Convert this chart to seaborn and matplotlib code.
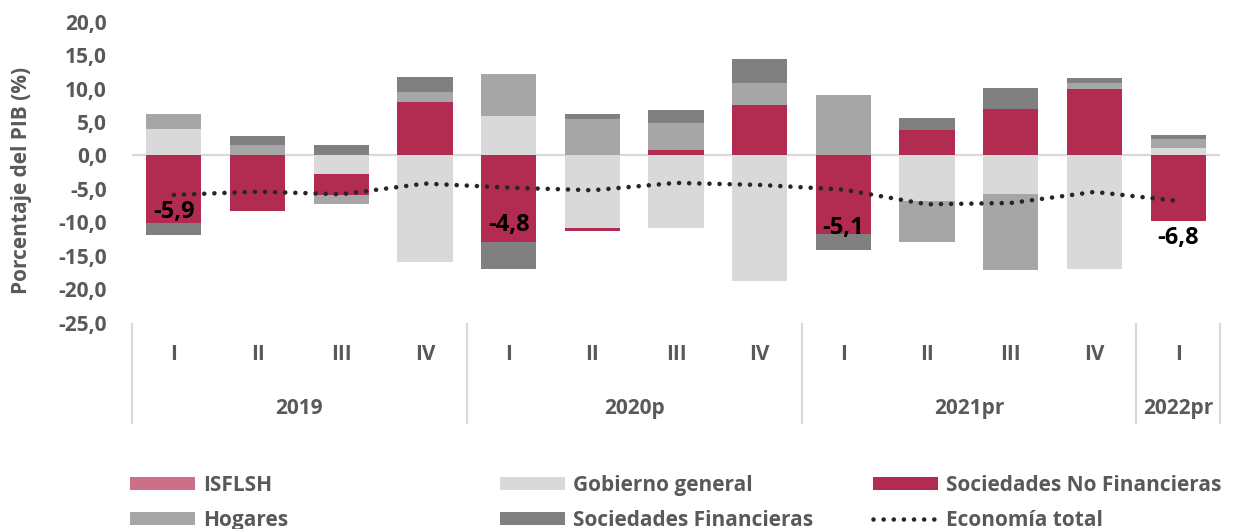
import numpy as np
import pandas as pd
import matplotlib
matplotlib.use("Agg")
import matplotlib.pyplot as plt
import seaborn as sns
from matplotlib.patches import Patch
from matplotlib.lines import Line2D

# ---------------- data ----------------
quarters = ["I", "II", "III", "IV", "I", "II", "III", "IV", "I", "II", "III", "IV", "I"]
years = ["2019"] * 4 + ["2020p"] * 4 + ["2021pr"] * 4 + ["2022pr"]

isflsh = [0, 0, 0, 0, 0, 0, 0, 0, 0, 0, 0, 0, 0]
gobierno = [3.9, 0.0, -2.8, -15.9, 5.85, -10.9, -10.85, -18.8, 0.0, -6.85, -5.75, -17.0, 1.05]
snf = [-10.1, -8.3, -3.1, 8.0, -13.0, -0.45, 0.8, 7.6, -11.7, 3.8, 7.0, 9.95, -9.8]
hogares = [2.35, 1.5, -1.4, 1.5, 6.3, 5.45, 4.05, 3.2, 9.0, -6.05, -11.4, 0.85, 1.45]
sf = [-1.85, 1.4, 1.5, 2.2, -3.9, 0.7, 1.9, 3.6, -2.4, 1.8, 3.05, 0.75, 0.6]
total = [-5.9, -5.4, -5.8, -4.2, -4.8, -5.2, -4.1, -4.4, -5.1, -7.3, -7.1, -5.45, -6.8]

y_ticks = [-25, -20, -15, -10, -5, 0, 5, 10, 15, 20]

# label offsets (pixels) for the data labels of each first quarter
label_offsets = [-17, -37, -38, -37]

# ---------------- style ----------------
sns.set_theme(style="white")
plt.rcParams["font.family"] = ["Open Sans", "DejaVu Sans"]
plt.rcParams["font.weight"] = "bold"
TXT = "#595959"
FS = 15

fig = plt.figure(figsize=(12.36, 5.29), dpi=100)
ax = fig.add_axes([132 / 1236, 1 - 322.7 / 529, 1088 / 1236, 301 / 529])

n = len(quarters)
periods = [f"{y}-{q}" for y, q in zip(years, quarters)]

series = [
    ("ISFLSH", isflsh, "#CC7088"),
    ("Gobierno general", gobierno, "#D9D9D9"),
    ("Sociedades No Financieras", snf, "#B22C52"),
    ("Hogares", hogares, "#A6A6A6"),
    ("Sociedades Financieras", sf, "#808080"),
]

ax.axhline(0, color="#D9D9D9", lw=1.6, zorder=1)

pos_base = np.zeros(n)
neg_base = np.zeros(n)
for name, vals, color in series:
    v = np.array(vals, dtype=float)
    base = np.where(v >= 0, pos_base, neg_base)
    df = pd.DataFrame({"periodo": periods, "valor": v})
    sns.barplot(data=df, x="periodo", y="valor", order=periods, color=color,
                saturation=1, width=0.66, errorbar=None, bottom=base,
                linewidth=0, edgecolor="none", ax=ax, zorder=2)
    pos_base += np.where(v > 0, v, 0)
    neg_base += np.where(v < 0, v, 0)

x_idx = np.arange(n)
sns.lineplot(x=x_idx, y=total, ax=ax, color="#262626", linewidth=3.3,
             linestyle=(0, (0.01, 2.2)), dash_capstyle="round", zorder=4,
             legend=False)

# data labels on first quarters
k = 0
for i in range(n):
    if quarters[i] == "I":
        ax.annotate(f"{total[i]:.1f}".replace(".", ","), xy=(i, total[i]),
                    xytext=(0, label_offsets[k]), textcoords="offset pixels",
                    ha="center", va="center", fontsize=17, color="black",
                    fontweight="bold", zorder=5)
        k += 1

# axes
ax.set_xlim(-0.5, n - 0.5)
ax.set_ylim(-25, 20)
ax.set_yticks(y_ticks)
ax.set_yticklabels([f"{t:.1f}".replace(".", ",") for t in y_ticks])
ax.set_xticks(x_idx)
ax.set_xticklabels(quarters)
ax.set_xlabel("")
ax.set_ylabel("")
for s in ax.spines.values():
    s.set_visible(False)
ax.tick_params(axis="y", length=0, pad=18, labelsize=FS, labelcolor=TXT)
ax.tick_params(axis="x", length=0, pad=15, labelsize=FS, labelcolor=TXT)
ax.grid(False)

# year labels and separators
uniq = []
for y in years:
    if y not in uniq:
        uniq.append(y)
bounds = [-0.5]
for y in uniq:
    idx = [i for i, yy in enumerate(years) if yy == y]
    ax.text(np.mean(idx), -0.285, y, transform=ax.get_xaxis_transform(),
            ha="center", va="center", fontsize=FS, color=TXT, fontweight="bold")
    bounds.append(max(idx) + 0.5)
ax.vlines(bounds, 0, -0.337, transform=ax.get_xaxis_transform(),
          colors="#D9D9D9", lw=1.5, clip_on=False)

fig.text(22 / 1236, 0.658, "Porcentaje del PIB (%)", rotation=90,
         ha="center", va="center", fontsize=FS, color=TXT, fontweight="bold")

# legend (three columns)
def patch(c):
    return Patch(facecolor=c, edgecolor="none")

dots = Line2D([], [], color="#262626", lw=3.3, linestyle=(0, (0.01, 2.2)),
              dash_capstyle="round")
cols = [
    ([patch(series[0][2]), patch(series[3][2])], [series[0][0], series[3][0]], 130),
    ([patch(series[1][2]), patch(series[4][2])], [series[1][0], series[4][0]], 500),
    ([patch(series[2][2]), dots], [series[2][0], "Economía total"], 873),
]
for handles, labels, xpx in cols:
    fig.legend(handles, labels, loc="upper left",
               bbox_to_anchor=(xpx / 1236, 1 - 475 / 529), frameon=False,
               borderpad=0, borderaxespad=0, handlelength=3.1,
               handleheight=0.58, handletextpad=0.4, labelspacing=0.66,
               prop={"size": FS, "weight": "bold"}, labelcolor=TXT)

fig.savefig("out.png", dpi=100)
